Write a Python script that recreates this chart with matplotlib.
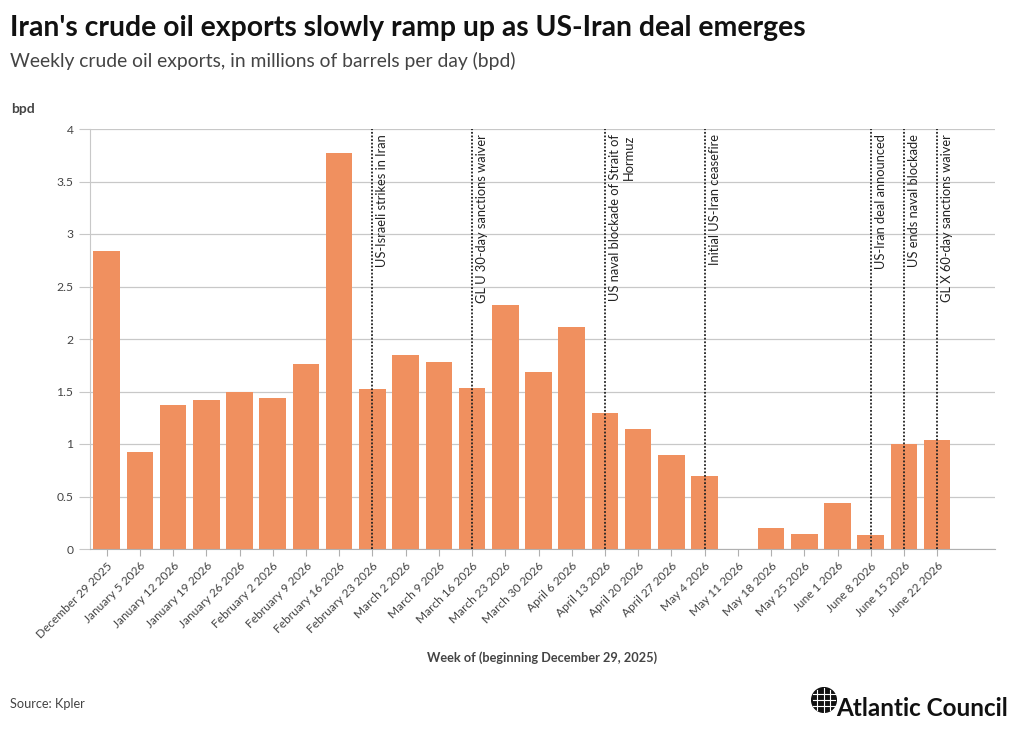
import matplotlib
matplotlib.use("Agg")
import matplotlib.pyplot as plt
from matplotlib.patches import Circle

plt.rcParams['font.family'] = ['Lato', 'DejaVu Sans']

weeks = ["December 29 2025", "January 5 2026", "January 12 2026", "January 19 2026",
         "January 26 2026", "February 2 2026", "February 9 2026", "February 16 2026",
         "February 23 2026", "March 2 2026", "March 9 2026", "March 16 2026",
         "March 23 2026", "March 30 2026", "April 6 2026", "April 13 2026",
         "April 20 2026", "April 27 2026", "May 4 2026", "May 11 2026",
         "May 18 2026", "May 25 2026", "June 1 2026", "June 8 2026",
         "June 15 2026", "June 22 2026"]
exports = [2.84, 0.92, 1.37, 1.42, 1.50, 1.44, 1.76, 3.77, 1.52, 1.85, 1.78, 1.53,
           2.32, 1.69, 2.11, 1.30, 1.14, 0.90, 0.70, 0.0, 0.20, 0.14, 0.44, 0.13,
           1.00, 1.04]
event_weeks = ["February 23 2026", "March 16 2026", "April 13 2026", "May 4 2026",
               "June 8 2026", "June 15 2026", "June 22 2026"]
event_labels = ["US-Israeli strikes in Iran", "GL U 30-day sanctions waiver",
                "US naval blockade of Strait of\nHormuz", "Initial US-Iran ceasefire",
                "US-Iran deal announced", "US ends naval blockade",
                "GL X 60-day sanctions waiver"]
yticks = [0, 0.5, 1, 1.5, 2, 2.5, 3, 3.5, 4]
ytick_labels = ["0", "0.5", "1", "1.5", "2", "2.5", "3", "3.5", "4"]

W, H = 1020, 730
fig = plt.figure(figsize=(W / 100, H / 100), dpi=100)
ax = fig.add_axes([90 / W, 1 - 549 / H, (995 - 90) / W, (549 - 129) / H])

x = list(range(len(weeks)))
ax.bar(x, exports, width=0.8, color="#F0905F", zorder=2)

ax.set_xlim(-0.5, 26.74)
ax.set_ylim(0, 4)
ax.set_yticks(yticks)
ax.set_yticklabels(ytick_labels)
ax.set_xticks(x)
ax.set_xticklabels(weeks, rotation=45, ha="right", rotation_mode="anchor")
ax.grid(axis="y", color="#c8c8c8", linewidth=0.9, zorder=0)
for s in ["top", "right"]:
    ax.spines[s].set_visible(False)
ax.spines["left"].set_color("#c8c8c8")
ax.spines["bottom"].set_color("#b0b0b0")
ax.tick_params(axis="y", length=8, color="#c8c8c8", labelsize=8.7, labelcolor="#444444", pad=4)
ax.tick_params(axis="x", length=5, color="#b0b0b0", labelsize=8.6, labelcolor="#444444", pad=3)

for wk, lab in zip(event_weeks, event_labels):
    xi = weeks.index(wk)
    ax.axvline(xi, color="#222222", linestyle=(0, (1, 1)), linewidth=1.3, zorder=3)
    ax.text(xi + 0.12, 3.95, lab, rotation=90, ha="left", va="top",
            fontsize=9.3, color="#222222", multialignment="right", zorder=4)

fig.text(10 / W, 1 - 28 / H, "Iran's crude oil exports slowly ramp up as US-Iran deal emerges",
         fontsize=20.4, fontweight="bold", color="#111111", va="center", ha="left")
fig.text(10 / W, 1 - 61 / H, "Weekly crude oil exports, in millions of barrels per day (bpd)",
         fontsize=13.9, color="#444444", va="center", ha="left")
fig.text(11 / W, 1 - 109 / H, "bpd", fontsize=10, fontweight="bold", color="#444444",
         va="center", ha="left")
fig.text(542 / W, 1 - 658 / H, "Week of (beginning December 29, 2025)", fontsize=9.2,
         fontweight="bold", color="#444444", va="center", ha="center")
fig.text(10 / W, 1 - 704 / H, "Source: Kpler", fontsize=9.2, color="#444444",
         va="center", ha="left")
fig.text(1008 / W, 1 - 708 / H, "Atlantic Council", fontsize=17.5, fontweight="bold",
         color="#111111", va="center", ha="right")

# globe logo
lax = fig.add_axes([811 / W, 1 - 713 / H, 26 / W, 26 / H])
lax.set_xlim(-1, 1)
lax.set_ylim(-1, 1)
lax.set_aspect("equal")
lax.axis("off")
lax.add_patch(Circle((0, 0), 0.95, color="#111111"))
for yy in (-0.45, 0, 0.45):
    lax.plot([-0.85, 0.85], [yy, yy], color="white", linewidth=0.8)
lax.plot([0, 0], [-0.9, 0.9], color="white", linewidth=0.8)
for xx in (-0.5, 0.5):
    lax.plot([xx, xx], [-0.75, 0.75], color="white", linewidth=0.8)

fig.savefig("out.png", dpi=100, facecolor="white")
